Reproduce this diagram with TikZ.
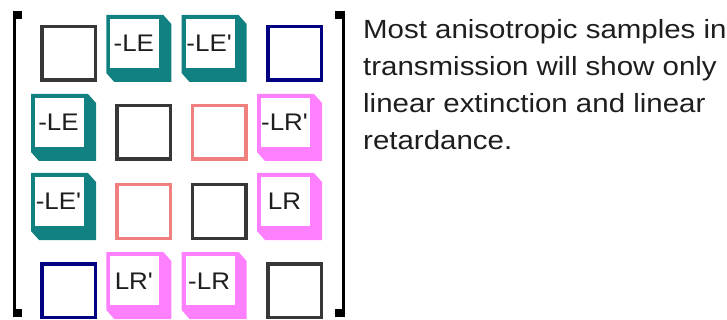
\documentclass[tikz,border=0pt]{standalone}
\usepackage{fontspec}
\newfontfamily\bodyfont[FakeStretch=1.12]{Liberation Sans}
\newfontfamily\labfont[FakeStretch=1.08]{Liberation Sans}
\definecolor{cteal}{RGB}{16,128,128}
\definecolor{cpink}{RGB}{255,128,255}
\definecolor{csalmon}{RGB}{240,128,128}
\definecolor{cnavy}{RGB}{0,0,128}
\definecolor{cdark}{RGB}{55,55,55}
\definecolor{ctext}{RGB}{30,30,30}
\tikzset{
  lab/.style={font=\labfont\fontsize{24}{28}\selectfont, text=ctext, inner sep=0pt},
  body/.style={font=\bodyfont\fontsize{26.3}{37}\selectfont, text=ctext, inner sep=0pt, anchor=base west},
  plainsq/.style={line width=3.5pt},
  bracket/.style={line width=3pt, black}
}
\newcommand\cubebox[5]{%
  \begin{scope}[shift={(#1,#2)}]
    \fill[#3] (0,0) -- (57,0) -- (65,9) -- (65,67) -- (8,67) -- (0,58) -- cycle;
    \fill[white] (4,4) rectangle (53,53);
    \node[lab, anchor=base] (#5) at (27.5,37) {#4};
  \end{scope}}
\newcommand\plainbox[3]{%
  \begin{scope}[shift={(#1,#2)}]
    \draw[plainsq, #3] (10.75,11.75) rectangle (64.25,65.25);
  \end{scope}}
\begin{document}
\begin{tikzpicture}[x=1pt,y=-1pt]
\useasboundingbox (0,0) rectangle (727,320);
\fill[white] (0,0) rectangle (727,320);
% brackets
\draw[bracket] (14.5,11) -- (14.5,317);
\fill[black] (13,11) rectangle (22,19);
\fill[black] (13,309) rectangle (22,317);
\draw[bracket] (343.5,11) -- (343.5,317);
\fill[black] (335,11) rectangle (345,19);
\fill[black] (335,309) rectangle (345,317);
% row 1
\plainbox{31}{15}{cdark}
\cubebox{106.3}{15}{cteal}{-LE}{b12}
\cubebox{181.6}{15}{cteal}{-LE'}{b13}
\plainbox{257}{15}{cnavy}
% row 2
\cubebox{31}{94}{cteal}{-LE}{b21}
\plainbox{106.3}{94}{cdark}
\plainbox{181.6}{94}{csalmon}
\cubebox{257}{94}{cpink}{-LR'}{b24}
% row 3
\cubebox{31}{173}{cteal}{-LE'}{b31}
\plainbox{106.3}{173}{csalmon}
\plainbox{181.6}{173}{cdark}
\cubebox{257}{173}{cpink}{LR}{b34}
% row 4
\plainbox{31}{252}{cnavy}
\cubebox{106.3}{252}{cpink}{LR'}{b42}
\cubebox{181.6}{252}{cpink}{-LR}{b43}
\plainbox{257}{252}{cdark}
% text
\node[body] (t1) at (363,38.5) {Most anisotropic samples in};
\node[body] (t2) at (363,75.5) {transmission will show only};
\node[body] (t3) at (363,112.5) {linear extinction and linear};
\node[body] (t4) at (363,149.5) {retardance.};
\end{tikzpicture}
\end{document}
